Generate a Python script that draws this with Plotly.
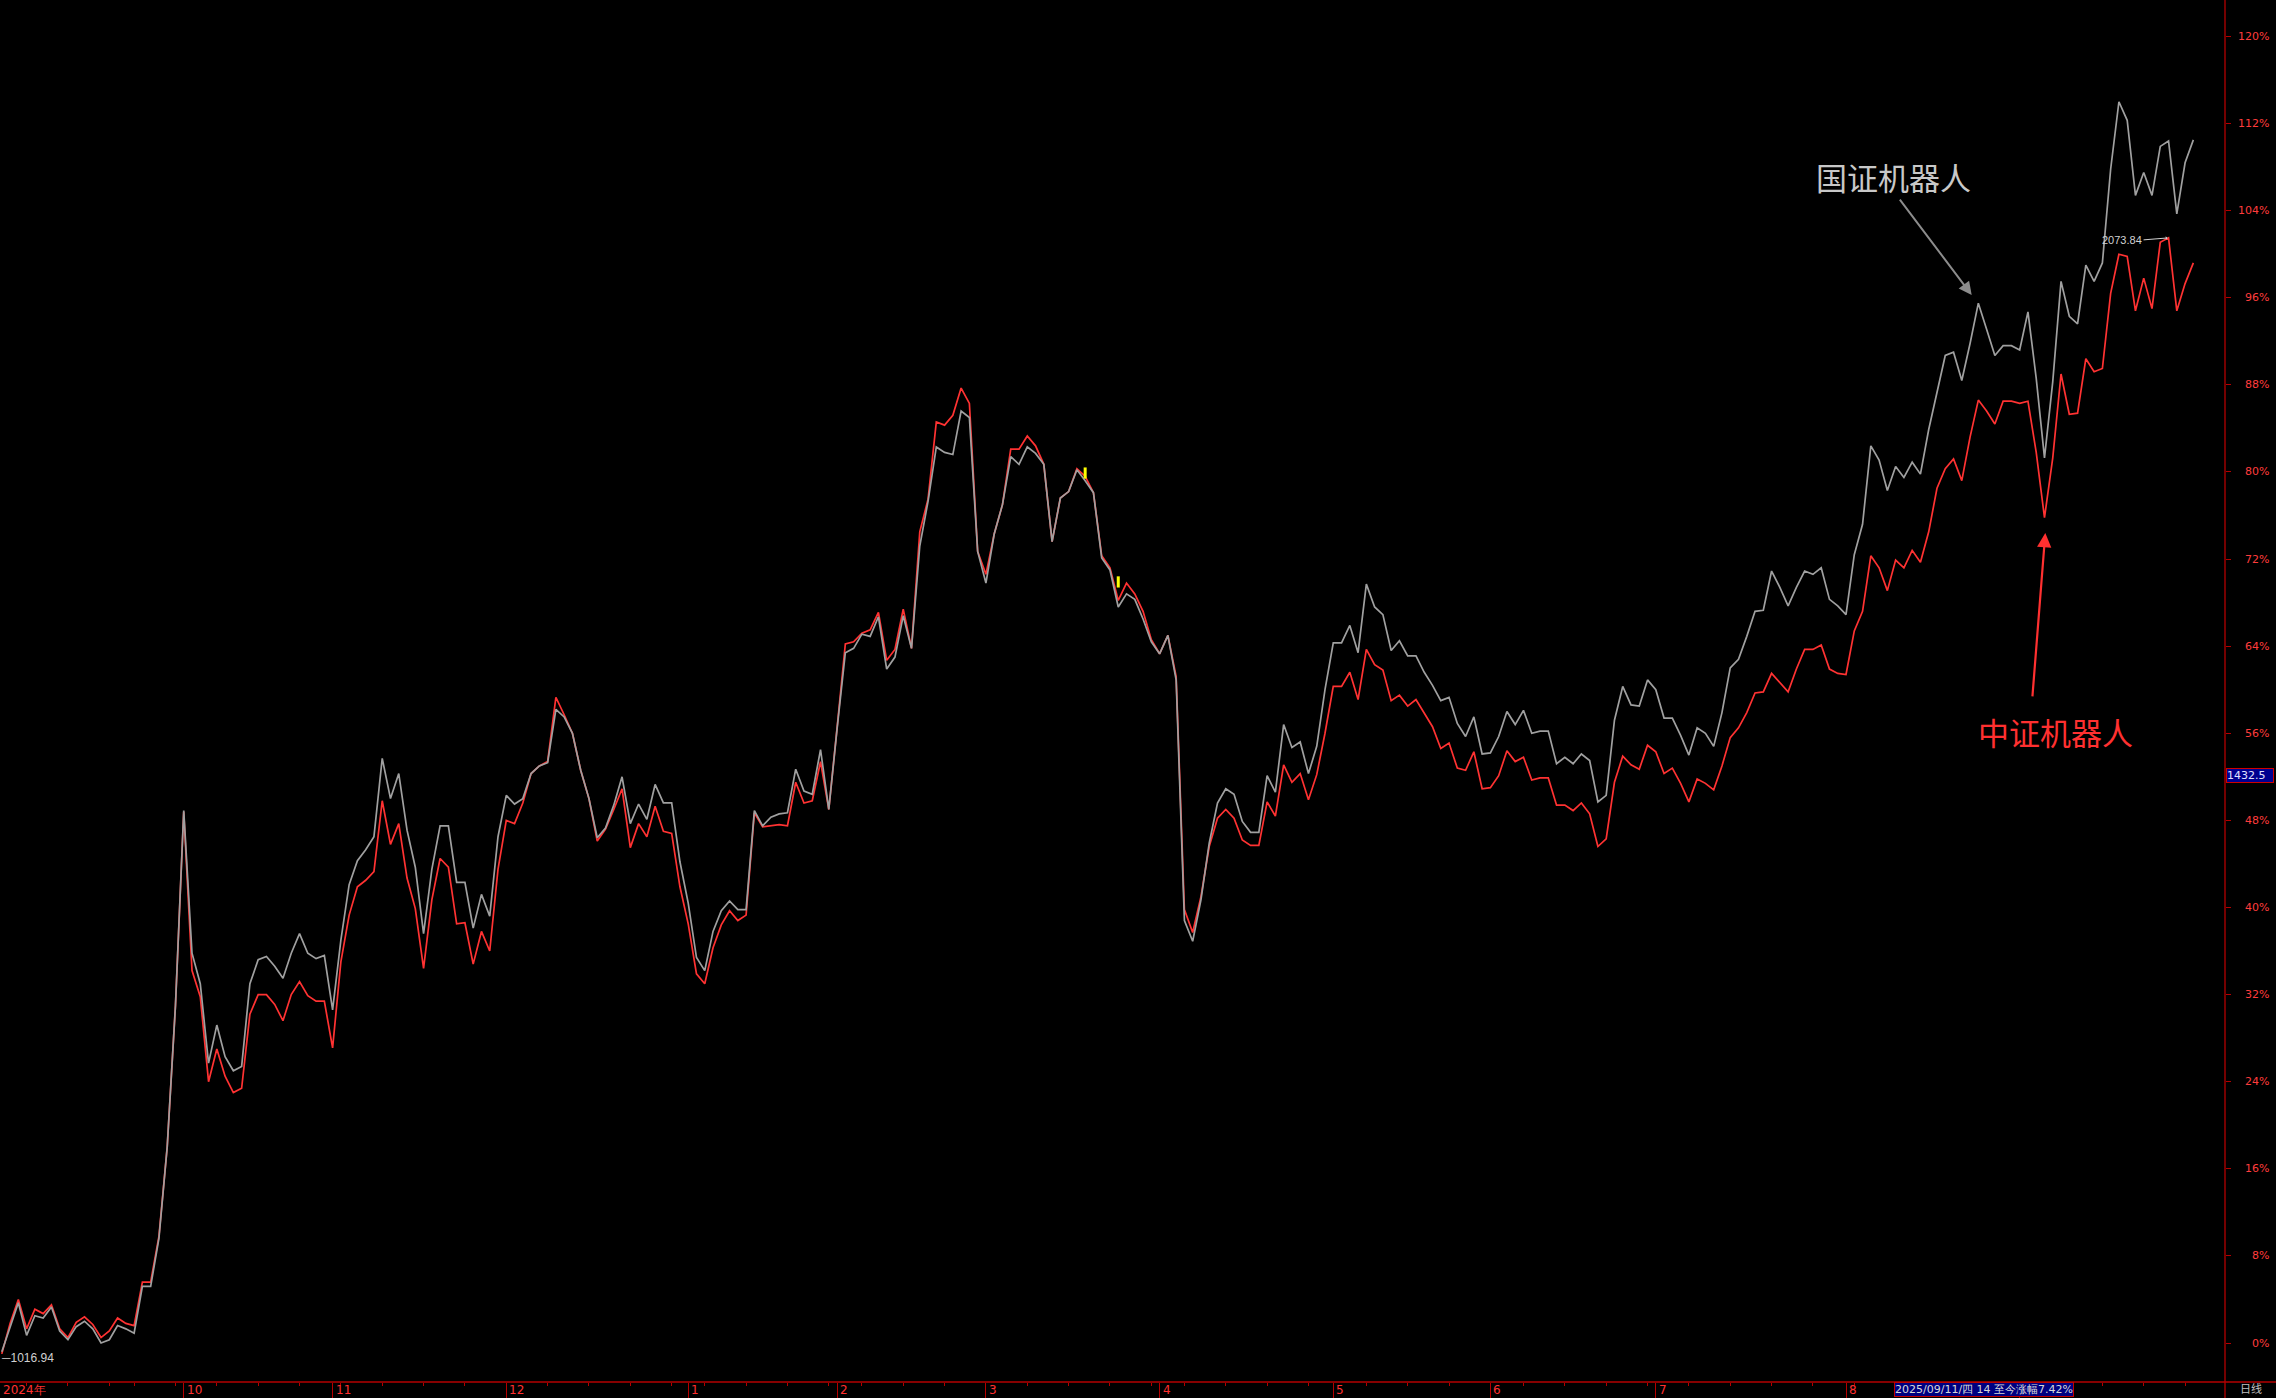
import pandas as pd
import plotly.graph_objects as go

# ---------------- data ----------------
start_date = "2024-08-28"
end_date = "2025-09-30"
holidays = ["2024-09-16", "2024-09-17", "2024-10-01", "2024-10-02", "2024-10-03",
            "2024-10-04", "2024-10-07", "2025-01-01", "2025-01-28", "2025-01-29",
            "2025-01-30", "2025-01-31", "2025-02-03", "2025-02-04", "2025-04-04",
            "2025-05-01", "2025-05-02", "2025-05-05", "2025-06-02"]

# 国证机器人 (grey), % change
guozheng = [
    -0.8, 1.5, 3.7, 0.7, 2.5, 2.3, 3.3, 1.1, 0.3, 1.5, 2.0, 1.3, 0.0, 0.3, 1.6, 1.3, 0.9, 5.2, 5.2, 9.6,
    18.0, 31.0, 48.9, 35.8, 33.0, 25.7, 29.2, 26.3, 25.0, 25.4, 33.0, 35.2, 35.5, 34.6, 33.5, 35.8, 37.6, 35.8, 35.3, 35.6,
    30.6, 37.0, 42.1, 44.3, 45.3, 46.5, 53.7, 50.0, 52.3, 47.1, 43.7, 37.6, 43.5, 47.5, 47.5, 42.3, 42.3, 38.1, 41.2, 39.2,
    46.5, 50.3, 49.5, 50.0, 52.3, 53.0, 53.3, 58.2, 57.5, 56.0, 52.6, 50.0, 46.4, 47.3, 49.4, 52.0, 47.7, 49.5, 48.1, 51.3,
    49.6, 49.6, 44.2, 40.4, 35.4, 34.2, 37.8, 39.7, 40.6, 39.8, 39.8, 48.9, 47.5, 48.3, 48.6, 48.7, 52.7, 50.7, 50.4, 54.5,
    49.0, 56.4, 63.4, 63.8, 65.1, 64.9, 66.7, 61.9, 63.0, 66.8, 63.8, 73.2, 77.3, 82.3, 81.8, 81.6, 85.6, 85.0, 72.7, 69.8,
    74.3, 77.0, 81.4, 80.7, 82.3, 81.7, 80.7, 73.6, 77.6, 78.2, 80.2, 79.2, 78.1, 72.1, 71.0, 67.6, 68.8, 68.3, 66.5, 64.4,
    63.3, 65.0, 60.9, 38.8, 36.9, 40.7, 45.9, 49.6, 50.9, 50.4, 47.9, 46.9, 46.9, 52.1, 50.6, 56.8, 54.7, 55.2, 52.3, 54.8,
    60.0, 64.3, 64.3, 65.9, 63.4, 69.7, 67.6, 66.9, 63.6, 64.5, 63.1, 63.1, 61.6, 60.4, 59.0, 59.3, 56.9, 55.7, 57.5, 54.1,
    54.2, 55.7, 58.0, 56.8, 58.1, 56.0, 56.2, 56.2, 53.2, 53.8, 53.2, 54.1, 53.5, 49.7, 50.3, 57.2, 60.3, 58.6, 58.5, 60.9,
    60.0, 57.4, 57.4, 55.8, 54.0, 56.5, 56.0, 54.8, 57.9, 62.0, 62.8, 64.9, 67.2, 67.3, 70.9, 69.4, 67.7, 69.4, 70.9, 70.6,
    71.2, 68.3, 67.7, 66.9, 72.4, 75.2, 82.4, 81.1, 78.3, 80.5, 79.5, 80.9, 79.8, 83.9, 87.4, 90.7, 91.0, 88.4, 91.8, 95.5,
    93.1, 90.7, 91.6, 91.6, 91.2, 94.7, 88.6, 81.3, 88.3, 97.5, 94.3, 93.6, 99.0, 97.5, 99.2, 107.8, 114.0, 112.3, 105.4, 107.5,
    105.4, 109.9, 110.4, 103.7, 108.4, 110.5,
]

# 中证机器人 (red), % change
zhongzheng = [
    -1.0, 1.8, 4.0, 1.3, 3.1, 2.7, 3.5, 1.3, 0.5, 1.9, 2.4, 1.7, 0.5, 1.1, 2.3, 1.8, 1.6, 5.6, 5.6, 9.8,
    18.0, 31.0, 48.8, 34.2, 31.8, 24.0, 27.0, 24.5, 23.0, 23.4, 30.2, 32.0, 32.0, 31.1, 29.6, 32.0, 33.2, 31.9, 31.4, 31.4,
    27.1, 35.0, 39.3, 41.9, 42.5, 43.3, 49.8, 45.8, 47.7, 42.7, 39.9, 34.4, 40.7, 44.5, 43.7, 38.5, 38.6, 34.8, 37.8, 36.0,
    43.5, 48.0, 47.7, 49.6, 52.3, 53.0, 53.4, 59.3, 57.7, 56.0, 52.6, 50.0, 46.1, 47.2, 49.0, 50.9, 45.5, 47.7, 46.5, 49.3,
    47.0, 46.8, 41.9, 38.5, 33.9, 33.0, 36.3, 38.4, 39.7, 38.8, 39.3, 48.7, 47.4, 47.5, 47.6, 47.5, 51.5, 49.6, 49.8, 53.4,
    49.0, 56.5, 64.2, 64.4, 65.2, 65.5, 67.1, 62.7, 63.7, 67.4, 63.8, 74.5, 77.5, 84.6, 84.3, 85.2, 87.7, 86.3, 72.7, 70.6,
    74.3, 77.0, 82.1, 82.1, 83.3, 82.4, 80.7, 73.6, 77.6, 78.2, 80.3, 79.6, 78.1, 72.3, 71.2, 68.2, 69.8, 68.8, 67.2, 64.6,
    63.3, 65.0, 61.2, 39.8, 37.7, 41.0, 45.6, 48.2, 49.0, 48.2, 46.2, 45.7, 45.7, 49.7, 48.4, 53.1, 51.5, 52.3, 49.9, 52.2,
    56.0, 60.3, 60.3, 61.6, 59.1, 63.7, 62.3, 61.8, 59.0, 59.5, 58.5, 59.1, 57.8, 56.6, 54.6, 55.1, 52.8, 52.6, 54.3, 50.9,
    51.0, 52.1, 54.4, 53.4, 53.8, 51.7, 51.9, 51.9, 49.4, 49.4, 48.9, 49.6, 48.6, 45.6, 46.3, 51.5, 53.9, 53.1, 52.7, 54.9,
    54.3, 52.3, 52.8, 51.4, 49.7, 51.8, 51.4, 50.8, 53.0, 55.6, 56.5, 57.9, 59.7, 59.8, 61.5, 60.6, 59.8, 61.9, 63.7, 63.7,
    64.1, 61.9, 61.5, 61.4, 65.4, 67.2, 72.3, 71.2, 69.1, 71.9, 71.2, 72.8, 71.7, 74.5, 78.5, 80.3, 81.2, 79.2, 83.2, 86.6,
    85.6, 84.4, 86.5, 86.5, 86.3, 86.5, 81.8, 75.8, 81.3, 89.0, 85.3, 85.4, 90.4, 89.2, 89.5, 96.4, 100.0, 99.8, 94.8, 97.8,
    95.0, 101.1, 101.5, 94.8, 97.3, 99.2,
]

y_ticks = [0, 8, 16, 24, 32, 40, 48, 56, 64, 72, 80, 88, 96, 104, 112, 120]
event_idx = [131, 135]          # small yellow event marks
event_val = [79.9, 69.9]
max_label = "2073.84"
min_label = "1016.94"
cursor_price = "1432.5"
cursor_level = 52.1
status_text = "2025/09/11/四 14 至今涨幅7.42%"

# ---------------- derived axis info ----------------
dates = pd.bdate_range(start_date, end_date)
dates = dates[~dates.isin(pd.to_datetime(holidays))]
n = len(dates)
idx = list(range(n))
months = dates.to_period("M")
month_starts = [i for i in idx if i > 0 and months[i] != months[i - 1]]
month_starts = [i for i in month_starts if i > 8]          # first partial month folded into year label
weeks = dates.to_period("W")
week_idx = [i for i in idx if i > 0 and weeks[i] != weeks[i - 1] and i not in month_starts]

px_per_day = 8.27
x0_px = 1.8
status_x0_px, status_x1_px = 1894, 2076

RED = "#ff3232"
AXIS_RED = "#b40000"
GREY = "#a0a0a0"

fig = go.Figure()
fig.add_trace(go.Scatter(x=idx, y=zhongzheng, mode="lines", line=dict(color=RED, width=1.7),
                         name="中证机器人", hoverinfo="skip"))
fig.add_trace(go.Scatter(x=idx, y=guozheng, mode="lines", line=dict(color=GREY, width=1.7),
                         name="国证机器人", hoverinfo="skip"))
fig.add_trace(go.Scatter(x=event_idx, y=event_val, mode="markers",
                         marker=dict(symbol="line-ns", size=8, line=dict(color="#ffff00", width=3)),
                         hoverinfo="skip"))

annotations = []
# y tick labels (right aligned)
for v in y_ticks:
    annotations.append(dict(xref="paper", x=1, xanchor="right", xshift=46, yref="y", y=v,
                            yanchor="middle", text=f"{v}%", showarrow=False,
                            font=dict(family="DejaVu Sans", size=11, color="#ff3c3c")))
# month labels
label_font = dict(family="DejaVu Sans", size=12, color="#ff3030")
annotations.append(dict(xref="x", x=0, xanchor="left", xshift=-1, yref="paper", y=0, yanchor="top",
                        yshift=1, text=f"{dates[0].year}年", showarrow=False, font=label_font))
for i in month_starts:
    px = x0_px + i * px_per_day
    if status_x0_px - 20 < px < status_x1_px:
        continue  # hidden beneath the status box
    annotations.append(dict(xref="x", x=i, xanchor="left", xshift=1, yref="paper", y=0,
                            yanchor="top", yshift=1, text=str(dates[i].month), showarrow=False,
                            font=label_font))
# min / max markers
imax = max(idx, key=lambda i: zhongzheng[i])
imin = min(idx, key=lambda i: zhongzheng[i])
annotations.append(dict(xref="x", x=imax, yref="y", y=zhongzheng[imax], text=max_label,
                        showarrow=True, ax=-25, ay=2, xanchor="right", arrowhead=1, arrowsize=0.6,
                        arrowwidth=1, arrowcolor="#d0d0d0", standoff=1,
                        font=dict(family="Liberation Sans", size=11, color="#d0d0d0")))
annotations.append(dict(xref="x", x=imin, yref="y", y=zhongzheng[imin], yshift=-4, text="─" + min_label,
                        showarrow=False, xanchor="left", yanchor="middle", xshift=-3,
                        font=dict(family="Liberation Sans", size=12, color="#d0d0d0")))
# series labels
annotations.append(dict(xref="x", x=228.7, yref="y", y=107.1, text="国证机器人", showarrow=False,
                        font=dict(family="Noto Sans CJK SC", size=31, color="#c8c8c8")))
annotations.append(dict(xref="x", x=238.2, yref="y", y=96.25, ax=-73, ay=-97, text="",
                        showarrow=True, arrowhead=2, arrowsize=1.3, arrowwidth=2, arrowcolor="#8c8c8c",
                        startstandoff=0, standoff=0))
annotations.append(dict(xref="x", x=248.3, yref="y", y=56.2, text="中证机器人", showarrow=False,
                        font=dict(family="Noto Sans CJK SC", size=31, color="#ff3030")))
annotations.append(dict(xref="x", x=247.1, yref="y", y=74.4, ax=-13, ay=165, text="",
                        showarrow=True, arrowhead=2, arrowsize=1.3, arrowwidth=2.2, arrowcolor="#ff3030",
                        startstandoff=0, standoff=0))
# cursor price box on right axis
annotations.append(dict(xref="paper", x=1, xanchor="left", xshift=1, yref="y", y=cursor_level,
                        yanchor="middle", text=cursor_price, showarrow=False, width=46, align="left",
                        bgcolor="#000090", bordercolor="#d00000", borderwidth=1, borderpad=0,
                        font=dict(family="DejaVu Sans", size=11, color="#e0e0ff")))
# status box at bottom
annotations.append(dict(xref="paper", x=status_x0_px / 2225, xanchor="left", yref="paper", y=0,
                        yanchor="top", text=status_text, showarrow=False, bgcolor="#000080",
                        bordercolor="#c00000", borderwidth=1, borderpad=0,
                        font=dict(family="DejaVu Sans", size=11, color="#d8d8d8")))
annotations.append(dict(xref="paper", x=2251 / 2225, xanchor="center", yref="paper", y=-16 / 1382,
                        yanchor="bottom", text="日线", showarrow=False,
                        font=dict(family="Noto Sans CJK SC", size=11, color="#c0c0c0")))

shapes = [
    dict(type="line", xref="paper", yref="paper", x0=0, x1=1.05, y0=0, y1=0,
         line=dict(color=AXIS_RED, width=1.3)),
    dict(type="line", xref="paper", yref="paper", x0=1, x1=1, y0=-0.05, y1=1,
         line=dict(color=AXIS_RED, width=1.3)),
]

fig.update_layout(
    width=2276, height=1398,
    margin=dict(l=0, r=51, t=0, b=16, pad=0),
    paper_bgcolor="#000000", plot_bgcolor="#000000",
    showlegend=False, hovermode=False,
    annotations=annotations, shapes=shapes,
    xaxis=dict(range=[-x0_px / px_per_day, (2225 - x0_px) / px_per_day], showgrid=False, zeroline=False,
               showline=False, tickmode="array", tickvals=month_starts, ticks="outside", ticklen=16,
               tickcolor=AXIS_RED, tickwidth=1, showticklabels=False, fixedrange=True,
               minor=dict(tickmode="array", tickvals=week_idx, ticks="outside", ticklen=3,
                          tickcolor=AXIS_RED, tickwidth=1, showgrid=False)),
    yaxis=dict(range=[(1343 - 1382) / 10.888, 1343 / 10.888], side="right", showgrid=False,
               zeroline=False, showline=False, tickmode="array", tickvals=y_ticks, ticks="outside",
               ticklen=5, tickcolor=AXIS_RED, tickwidth=1, showticklabels=False, fixedrange=True),
)

fig.write_html("out.html", config={"displayModeBar": False, "staticPlot": True},
               post_script="document.body.style.margin='0';document.body.style.background='#000';"
                           "document.body.style.overflow='hidden';")
